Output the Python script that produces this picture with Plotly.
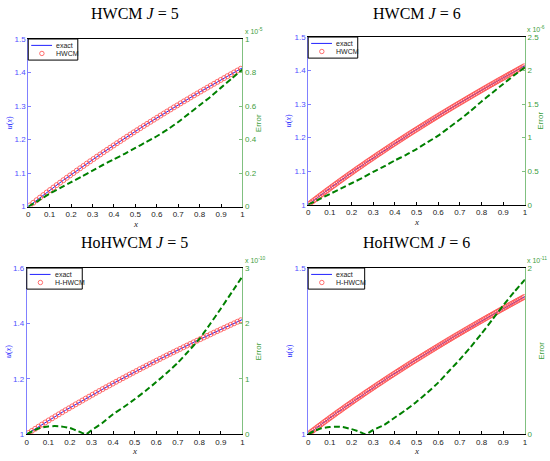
import plotly.graph_objects as go

# ---------------- data ----------------
# collocation points, J = 5 (64 points)
x_j5 = [0.0078, 0.0234, 0.0391, 0.0547, 0.0703, 0.0859, 0.1016, 0.1172, 0.1328, 0.1484,
        0.1641, 0.1797, 0.1953, 0.2109, 0.2266, 0.2422, 0.2578, 0.2734, 0.2891, 0.3047,
        0.3203, 0.3359, 0.3516, 0.3672, 0.3828, 0.3984, 0.4141, 0.4297, 0.4453, 0.4609,
        0.4766, 0.4922, 0.5078, 0.5234, 0.5391, 0.5547, 0.5703, 0.5859, 0.6016, 0.6172,
        0.6328, 0.6484, 0.6641, 0.6797, 0.6953, 0.7109, 0.7266, 0.7422, 0.7578, 0.7734,
        0.7891, 0.8047, 0.8203, 0.8359, 0.8516, 0.8672, 0.8828, 0.8984, 0.9141, 0.9297,
        0.9453, 0.9609, 0.9766, 0.9922]
u_j5 = [1.0039, 1.0116, 1.0193, 1.0270, 1.0346, 1.0421, 1.0496, 1.0570, 1.0644, 1.0716,
        1.0790, 1.0862, 1.0933, 1.1004, 1.1076, 1.1145, 1.1215, 1.1285, 1.1354, 1.1422,
        1.1491, 1.1558, 1.1626, 1.1693, 1.1759, 1.1825, 1.1892, 1.1957, 1.2022, 1.2087,
        1.2152, 1.2216, 1.2279, 1.2343, 1.2406, 1.2469, 1.2531, 1.2593, 1.2655, 1.2717,
        1.2778, 1.2839, 1.2900, 1.2961, 1.3020, 1.3080, 1.3140, 1.3199, 1.3258, 1.3317,
        1.3376, 1.3434, 1.3492, 1.3550, 1.3607, 1.3665, 1.3722, 1.3778, 1.3835, 1.3892,
        1.3947, 1.4003, 1.4059, 1.4114]

# collocation points, J = 6 (128 points)
x_j6 = [0.0039, 0.0117, 0.0195, 0.0273, 0.0352, 0.0430, 0.0508, 0.0586, 0.0664, 0.0742,
        0.0820, 0.0898, 0.0977, 0.1055, 0.1133, 0.1211, 0.1289, 0.1367, 0.1445, 0.1523,
        0.1602, 0.1680, 0.1758, 0.1836, 0.1914, 0.1992, 0.2070, 0.2148, 0.2227, 0.2305,
        0.2383, 0.2461, 0.2539, 0.2617, 0.2695, 0.2773, 0.2852, 0.2930, 0.3008, 0.3086,
        0.3164, 0.3242, 0.3320, 0.3398, 0.3477, 0.3555, 0.3633, 0.3711, 0.3789, 0.3867,
        0.3945, 0.4023, 0.4102, 0.4180, 0.4258, 0.4336, 0.4414, 0.4492, 0.4570, 0.4648,
        0.4727, 0.4805, 0.4883, 0.4961, 0.5039, 0.5117, 0.5195, 0.5273, 0.5352, 0.5430,
        0.5508, 0.5586, 0.5664, 0.5742, 0.5820, 0.5898, 0.5977, 0.6055, 0.6133, 0.6211,
        0.6289, 0.6367, 0.6445, 0.6523, 0.6602, 0.6680, 0.6758, 0.6836, 0.6914, 0.6992,
        0.7070, 0.7148, 0.7227, 0.7305, 0.7383, 0.7461, 0.7539, 0.7617, 0.7695, 0.7773,
        0.7852, 0.7930, 0.8008, 0.8086, 0.8164, 0.8242, 0.8320, 0.8398, 0.8477, 0.8555,
        0.8633, 0.8711, 0.8789, 0.8867, 0.8945, 0.9023, 0.9102, 0.9180, 0.9258, 0.9336,
        0.9414, 0.9492, 0.9570, 0.9648, 0.9727, 0.9805, 0.9883, 0.9961]
u_j6 = [1.0020, 1.0058, 1.0097, 1.0135, 1.0174, 1.0212, 1.0251, 1.0289, 1.0327, 1.0365,
        1.0402, 1.0440, 1.0477, 1.0515, 1.0552, 1.0588, 1.0626, 1.0662, 1.0698, 1.0734,
        1.0772, 1.0808, 1.0844, 1.0880, 1.0915, 1.0951, 1.0986, 1.1022, 1.1058, 1.1094,
        1.1128, 1.1162, 1.1198, 1.1232, 1.1268, 1.1302, 1.1337, 1.1371, 1.1405, 1.1439,
        1.1474, 1.1508, 1.1541, 1.1575, 1.1609, 1.1643, 1.1676, 1.1710, 1.1743, 1.1775,
        1.1809, 1.1841, 1.1876, 1.1908, 1.1941, 1.1973, 1.2006, 1.2038, 1.2071, 1.2103,
        1.2136, 1.2168, 1.2200, 1.2232, 1.2263, 1.2295, 1.2327, 1.2359, 1.2390, 1.2422,
        1.2453, 1.2485, 1.2515, 1.2547, 1.2578, 1.2608, 1.2640, 1.2670, 1.2702, 1.2732,
        1.2763, 1.2793, 1.2824, 1.2854, 1.2885, 1.2915, 1.2946, 1.2976, 1.3005, 1.3035,
        1.3065, 1.3095, 1.3125, 1.3155, 1.3184, 1.3214, 1.3243, 1.3273, 1.3302, 1.3332,
        1.3361, 1.3391, 1.3419, 1.3449, 1.3478, 1.3506, 1.3536, 1.3564, 1.3593, 1.3621,
        1.3651, 1.3679, 1.3708, 1.3736, 1.3764, 1.3792, 1.3821, 1.3849, 1.3878, 1.3906,
        1.3933, 1.3961, 1.3989, 1.4017, 1.4045, 1.4073, 1.4100, 1.4128]

# exact solution end values
x_ends = [0.0, 1.0]
u_ends = [1.0, 1.4142]

# absolute errors (in units of the axis multiplier)
err_x_hwcm = [0, 0.05, 0.1, 0.15, 0.2, 0.25, 0.3, 0.35, 0.4, 0.45, 0.5,
              0.55, 0.6, 0.65, 0.7, 0.75, 0.8, 0.85, 0.9, 0.95, 1.0]
err_hwcm_j5 = [0, 0.038, 0.078, 0.112, 0.146, 0.18, 0.215, 0.25, 0.283, 0.315, 0.35,
               0.385, 0.42, 0.46, 0.505, 0.555, 0.605, 0.655, 0.71, 0.765, 0.818]   # x 1e-5
err_hwcm_j6 = [0, 0.08, 0.16, 0.24, 0.32, 0.40, 0.49, 0.57, 0.66, 0.74, 0.83,
               0.93, 1.03, 1.15, 1.27, 1.40, 1.54, 1.67, 1.80, 1.93, 2.05]          # x 1e-6

err_x_ho5 = [0, 0.03, 0.06, 0.1, 0.13, 0.16, 0.2, 0.24, 0.275, 0.3, 0.35, 0.4, 0.45,
             0.5, 0.55, 0.6, 0.65, 0.7, 0.75, 0.8, 0.85, 0.9, 0.95, 1.0]
err_ho_j5 = [0, 0.06, 0.11, 0.14, 0.145, 0.14, 0.11, 0.05, 0.0, 0.07, 0.2, 0.36, 0.49,
             0.63, 0.78, 0.94, 1.11, 1.29, 1.5, 1.72, 1.99, 2.27, 2.56, 2.85]        # x 1e-10
err_x_ho6 = [0, 0.03, 0.06, 0.1, 0.13, 0.16, 0.2, 0.23, 0.265, 0.3, 0.35, 0.4, 0.45,
             0.5, 0.55, 0.6, 0.65, 0.7, 0.75, 0.8, 0.85, 0.9, 0.95, 1.0]
err_ho_j6 = [0, 0.04, 0.07, 0.085, 0.09, 0.085, 0.06, 0.035, 0.0, 0.05, 0.11, 0.2, 0.29,
             0.39, 0.5, 0.62, 0.76, 0.9, 1.05, 1.21, 1.38, 1.55, 1.71, 1.86]         # x 1e-11

x_ticks = [0, 0.1, 0.2, 0.3, 0.4, 0.5, 0.6, 0.7, 0.8, 0.9, 1]

panels = [
    dict(title="HWCM <i>J</i> = 5", method="HWCM", xm=x_j5, um=u_j5,
         ex=err_x_hwcm, ey=err_hwcm_j5, exp="-5",
         yl_range=[1, 1.5], yl_ticks=[1, 1.1, 1.2, 1.3, 1.4, 1.5],
         yr_range=[0, 1], yr_ticks=[0, 0.2, 0.4, 0.6, 0.8, 1],
         dom_x=[26.5, 242.7], dom_y=[35.7, 206.7], title_y=10, leg_w=50),
    dict(title="HWCM <i>J</i> = 6", method="HWCM", xm=x_j6, um=u_j6,
         ex=err_x_hwcm, ey=err_hwcm_j6, exp="-6",
         yl_range=[1, 1.5], yl_ticks=[1, 1.1, 1.2, 1.3, 1.4, 1.5],
         yr_range=[0, 2.5], yr_ticks=[0, 0.5, 1, 1.5, 2, 2.5],
         dom_x=[309, 527.7], dom_y=[33.7, 204.7], title_y=10, leg_w=50),
    dict(title="HoHWCM <i>J</i> = 5", method="H-HWCM", xm=x_j5, um=u_j5,
         ex=err_x_ho5, ey=err_ho_j5, exp="-10",
         yl_range=[1, 1.6], yl_ticks=[1, 1.2, 1.4, 1.6],
         yr_range=[0, 3], yr_ticks=[0, 1, 2, 3],
         dom_x=[25, 242.7], dom_y=[269.3, 438.7], title_y=243.5, leg_w=56),
    dict(title="HoHWCM <i>J</i> = 6", method="H-HWCM", xm=x_j6, um=u_j6,
         ex=err_x_ho6, ey=err_ho_j6, exp="-11",
         yl_range=[1, 1.5], yl_ticks=[1, 1.5],
         yr_range=[0, 2], yr_ticks=[0, 2],
         dom_x=[309, 527.7], dom_y=[269.3, 438.7], title_y=243.5, leg_w=57),
]

W, H = 550, 461
BLUE = "#2020ff"
BLUE_AX = "#8080ff"
GREEN = "#008000"
GREEN_AX = "#80c080"
RED = "#ff4a4a"
SANS = "Liberation Sans, Arial, sans-serif"
SERIF = "Liberation Serif, Times New Roman, serif"
TICKFONT = dict(family=SANS, size=8)

fig = go.Figure()
layout = dict(width=W, height=H, margin=dict(l=0, r=0, t=0, b=0),
              paper_bgcolor="white", plot_bgcolor="white", showlegend=False)
annotations = []
shapes = []


def px_x(v):
    return v / W


def px_y(v):
    return 1 - v / H


for i, p in enumerate(panels):
    xs = "" if i == 0 else str(i + 1)
    yl = str(2 * i + 1) if i > 0 else ""
    yr = str(2 * i + 2)
    xref = "x" + xs
    ylref = "y" + yl
    yrref = "y" + yr

    x_exact = [x_ends[0]] + p["xm"] + [x_ends[1]]
    u_exact = [u_ends[0]] + p["um"] + [u_ends[1]]

    fig.add_trace(go.Scatter(x=x_exact, y=u_exact, mode="lines", name="exact",
                             line=dict(color=BLUE, width=1),
                             xaxis=xref, yaxis=ylref))
    fig.add_trace(go.Scatter(x=p["xm"], y=p["um"], mode="markers", name=p["method"],
                             marker=dict(symbol="circle-open", size=5, color=RED,
                                         line=dict(width=0.8, color=RED)),
                             xaxis=xref, yaxis=ylref))
    fig.add_trace(go.Scatter(x=p["ex"], y=p["ey"], mode="lines", name="Error",
                             line=dict(color=GREEN, width=2, dash="6px,3px",
                                       shape="spline", smoothing=0.6),
                             xaxis=xref, yaxis=yrref))

    dx = [px_x(p["dom_x"][0]), px_x(p["dom_x"][1])]
    dy = [px_y(p["dom_y"][1]), px_y(p["dom_y"][0])]

    layout["xaxis" + xs] = dict(domain=dx, anchor=ylref, range=[0, 1],
                                tickvals=x_ticks, ticktext=[f"{t:g}" for t in x_ticks],
                                ticks="inside", ticklen=3, tickcolor="black",
                                showline=True, linecolor="black", linewidth=1,
                                mirror=True, showgrid=False, zeroline=False,
                                tickfont=dict(**TICKFONT, color="#222222"))
    layout["yaxis" + yl] = dict(domain=dy, anchor=xref, range=p["yl_range"],
                                tickvals=p["yl_ticks"],
                                ticktext=[f"{t:g}" for t in p["yl_ticks"]],
                                ticks="inside", ticklen=3, tickcolor=BLUE_AX,
                                showline=True, linecolor=BLUE_AX, linewidth=1,
                                showgrid=False, zeroline=False, side="left",
                                tickfont=dict(**TICKFONT, color="#5050ff"))
    layout["yaxis" + yr] = dict(domain=dy, anchor=xref, overlaying=ylref, side="right",
                                range=p["yr_range"], tickvals=p["yr_ticks"],
                                ticktext=[f"{t:g}" for t in p["yr_ticks"]],
                                ticks="inside", ticklen=3, tickcolor=GREEN_AX,
                                showline=True, linecolor=GREEN_AX, linewidth=1,
                                showgrid=False, zeroline=False,
                                tickfont=dict(**TICKFONT, color="#40a040"))

    # ---- legend box (drawn in the upper-left corner of the plot) ----
    lx0 = p["dom_x"][0]
    ly0 = p["dom_y"][0]
    lw = p["leg_w"]
    lh = 21.5
    shapes.append(dict(type="rect", xref="paper", yref="paper",
                       x0=px_x(lx0), x1=px_x(lx0 + lw), y0=px_y(ly0 + lh), y1=px_y(ly0),
                       line=dict(color="black", width=1), fillcolor="white",
                       layer="above"))
    shapes.append(dict(type="line", xref="paper", yref="paper",
                       x0=px_x(lx0 + 3), x1=px_x(lx0 + 24),
                       y0=px_y(ly0 + 6.5), y1=px_y(ly0 + 6.5),
                       line=dict(color=BLUE, width=1), layer="above"))
    shapes.append(dict(type="circle", xref="paper", yref="paper",
                       x0=px_x(lx0 + 11.5), x1=px_x(lx0 + 16),
                       y0=px_y(ly0 + 17), y1=px_y(ly0 + 12.5),
                       line=dict(color=RED, width=0.8), layer="above"))
    annotations.append(dict(text="exact", x=px_x(lx0 + 26), y=px_y(ly0 + 6.5),
                            xref="paper", yref="paper", showarrow=False,
                            xanchor="left", yanchor="middle",
                            font=dict(family=SANS, size=7, color="#222222")))
    annotations.append(dict(text=p["method"], x=px_x(lx0 + 26), y=px_y(ly0 + 15),
                            xref="paper", yref="paper", showarrow=False,
                            xanchor="left", yanchor="middle",
                            font=dict(family=SANS, size=7, color="#222222")))

    cx = (p["dom_x"][0] + p["dom_x"][1]) / 2
    # panel title
    annotations.append(dict(text=p["title"], x=px_x(cx), y=px_y(p["title_y"]),
                            xref="paper", yref="paper", showarrow=False,
                            xanchor="center", yanchor="middle",
                            font=dict(family=SERIF, size=16, color="black")))
    # x label
    annotations.append(dict(text="<i>x</i>", x=px_x(cx), y=px_y(p["dom_y"][1] + 17.5),
                            xref="paper", yref="paper", showarrow=False,
                            xanchor="center", yanchor="middle",
                            font=dict(family=SERIF, size=9, color="#222222")))
    # left y label
    annotations.append(dict(text="<i>u</i>(<i>x</i>)", x=px_x(p["dom_x"][0] - 19),
                            y=(dy[0] + dy[1]) / 2, xref="paper", yref="paper",
                            showarrow=False, textangle=-90,
                            xanchor="center", yanchor="middle",
                            font=dict(family=SERIF, size=8, color=BLUE)))
    # right y label
    annotations.append(dict(text="Error", x=px_x(p["dom_x"][1] + 16),
                            y=(dy[0] + dy[1]) / 2, xref="paper", yref="paper",
                            showarrow=False, textangle=-90,
                            xanchor="center", yanchor="middle",
                            font=dict(family=SANS, size=8, color="#40a040")))
    # exponent multiplier
    annotations.append(dict(text=f"x 10<sup>{p['exp']}</sup>", x=dx[1] + 0.001,
                            y=px_y(p["dom_y"][0] - 2.5), xref="paper", yref="paper",
                            showarrow=False, xanchor="left", yanchor="bottom",
                            font=dict(family=SANS, size=7, color="#40a040")))

layout["annotations"] = annotations
layout["shapes"] = shapes
fig.update_layout(**layout)
fig.write_html("out.html",
               config={"displayModeBar": False},
               post_script="document.body.style.margin='0';"
                           "document.body.style.padding='0';"
                           "document.body.style.overflow='hidden';")
